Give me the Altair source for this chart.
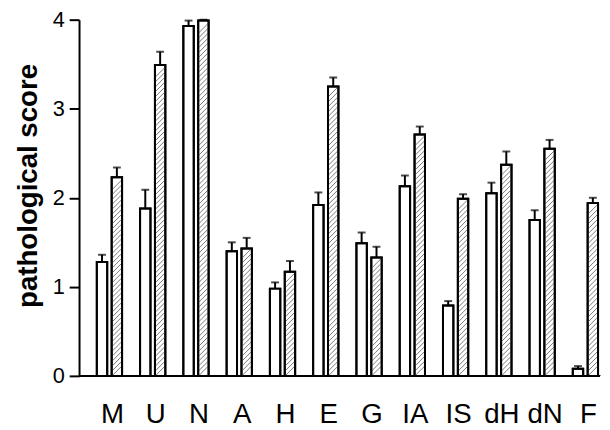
import altair as alt
import pandas as pd

categories = ["M", "U", "N", "A", "H", "E", "G", "IA", "IS", "dH", "dN", "F"]
open_values = [1.28, 1.88, 3.93, 1.40, 0.98, 1.92, 1.49, 2.13, 0.79, 2.05, 1.75, 0.08]
open_errors = [0.08, 0.21, 0.06, 0.10, 0.07, 0.14, 0.12, 0.12, 0.05, 0.12, 0.11, 0.03]
hatched_values = [2.23, 3.49, 3.99, 1.43, 1.17, 3.25, 1.33, 2.71, 1.99, 2.37, 2.55, 1.94]
hatched_errors = [0.11, 0.15, 0.01, 0.12, 0.12, 0.10, 0.12, 0.09, 0.05, 0.15, 0.10, 0.06]
series_names = ["open", "hatched"]
y_ticks = [0, 1, 2, 3, 4]

rows = []
for i, c in enumerate(categories):
    rows.append({"cat": c, "series": "open", "value": open_values[i], "err": open_errors[i]})
    rows.append({"cat": c, "series": "hatched", "value": hatched_values[i], "err": hatched_errors[i]})
df = pd.DataFrame(rows)
df["top"] = df["value"] + df["err"]

FONT = "Liberation Sans"
W, H = 528, 361

x_enc = alt.X(
    "cat:N",
    sort=categories,
    scale=alt.Scale(range=[18, 526], paddingInner=0.416, paddingOuter=0, round=False),
    axis=alt.Axis(
        title=None,
        labelAngle=0,
        ticks=False,
        domain=False,
        labelFont=FONT,
        labelFontSize=28,
        labelColor="black",
        labelPadding=25,
        labelOffset=3,
    ),
)
xoff_enc = alt.XOffset("series:N", sort=series_names,
                       scale=alt.Scale(domain=series_names, paddingInner=0.3, paddingOuter=0, round=False))
y_scale = alt.Scale(domain=[0, 4], nice=False, zero=True)
y_axis = alt.Axis(
    title="pathological score",
    values=y_ticks,
    format="d",
    grid=False,
    tickSize=10,
    tickWidth=2,
    tickColor="black",
    domainColor="black",
    domainWidth=2,
    labelFont=FONT,
    labelFontSize=22,
    labelColor="black",
    labelPadding=5,
    titleFont=FONT,
    titleFontSize=28,
    titleFontWeight="bold",
    titleColor="black",
    titlePadding=10,
    titleY=168,
)

base = alt.Chart(df)

baseline = base.mark_rule(color="black", strokeWidth=2).encode(
    y=alt.datum(0, scale=y_scale), x=alt.value(0), x2=alt.value(W)
)

bars = base.mark_bar(fill="white", stroke="black", strokeWidth=2).encode(
    x=x_enc, xOffset=xoff_enc, y=alt.Y("value:Q", scale=y_scale, axis=y_axis)
)

hatch = (
    base.transform_filter(alt.datum.series == "hatched")
    .transform_calculate(seq="sequence(0.055, datum.value - 0.05, 0.055)")
    .transform_flatten(["seq"])
    .mark_point(shape="M-1,1L1,-1", size=100, filled=False, stroke="#6a6a6a",
                strokeWidth=0.9, opacity=1)
    .encode(x=x_enc, xOffset=xoff_enc, y=alt.Y("seq:Q", scale=y_scale))
)

outline = base.mark_bar(fillOpacity=0, stroke="black", strokeWidth=2).encode(
    x=x_enc, xOffset=xoff_enc, y=alt.Y("value:Q", scale=y_scale)
)

err_rule = base.mark_rule(color="black", strokeWidth=2).encode(
    x=x_enc, xOffset=xoff_enc, y=alt.Y("value:Q", scale=y_scale), y2="top:Q"
)

err_cap = base.mark_tick(color="black", thickness=2, size=8, orient="horizontal").encode(
    x=x_enc, xOffset=xoff_enc, y=alt.Y("top:Q", scale=y_scale)
)

chart = (
    alt.layer(bars, hatch, outline, err_rule, err_cap, baseline)
    .properties(
        width=W,
        height=H,
        autosize=alt.AutoSizeParams(type="none"),
        padding={"left": 72, "top": 9, "right": 2, "bottom": 52},
        background="white",
    )
    .configure_view(stroke=None)
)

chart.save("out.html", embed_options={"renderer": "svg", "actions": False})
